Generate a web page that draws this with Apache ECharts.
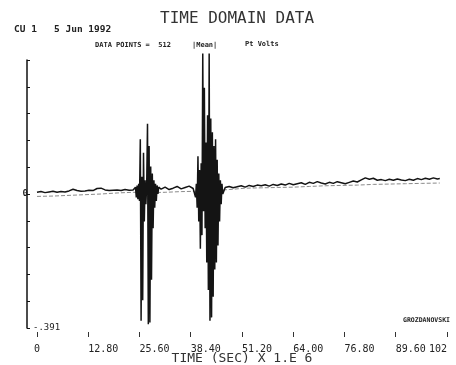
<!DOCTYPE html>
<html>
<head>
<meta charset="utf-8">
<script src="https://cdn.jsdelivr.net/npm/echarts@6/dist/echarts.min.js"></script>
<style>html,body{margin:0;padding:0;background:#fff}#c{width:456px;height:365px}</style>
</head>
<body>
<div id="c"></div>
<script>
// x tick labels (microseconds)
var xTickLabels = ['0', '12.80', '25.60', '38.40', '51.20', '64.00', '76.80', '89.60', '102'];
// y range (volts)
var yMin = -0.391, yMax = 0.391;

// main trace: time (µs) and volts
var timeMain = [
  0, 1, 2, 3, 4, 5, 6, 7, 8, 9, 10, 11, 12, 13, 14, 15, 16, 17, 18, 19, 20, 21, 22, 23, 24,
  24.6, 24.8, 25.0, 25.2, 25.4, 25.6, 25.8, 26.0, 26.2, 26.4, 26.6, 26.8, 27.0, 27.2, 27.4,
  27.6, 27.8, 28.0, 28.2, 28.4, 28.6, 28.8, 29.0, 29.2, 29.4, 29.6, 29.8, 30.0, 30.2, 30.4,
  31, 32, 33, 34, 35, 36, 37, 38, 39,
  39.4, 39.6, 39.8, 40.0, 40.2, 40.4, 40.6, 40.8, 41.0, 41.2, 41.4, 41.6, 41.8, 42.0, 42.2, 42.4,
  42.6, 42.8, 43.0, 43.2, 43.4, 43.6, 43.8, 44.0, 44.2, 44.4, 44.6, 44.8, 45.0, 45.2, 45.4, 45.6,
  45.8, 46.0, 46.2, 46.4,
  47, 48, 49, 50, 51, 52, 53, 54, 55, 56, 57, 58, 59, 60, 61, 62, 63, 64, 65, 66, 67, 68, 69, 70,
  71, 72, 73, 74, 75, 76, 77, 78, 79, 80, 81, 82, 83, 84, 85, 86, 87, 88, 89, 90, 91, 92, 93, 94,
  95, 96, 97, 98, 99, 100, 100.6
];
var voltsMain = [
  0.005, 0.007, 0.004, 0.006, 0.008, 0.005, 0.007, 0.006, 0.009, 0.014, 0.010, 0.008, 0.009, 0.011, 0.010, 0.016, 0.017, 0.012, 0.010, 0.011, 0.012, 0.010, 0.013, 0.011, 0.012,
  0.020, -0.010, 0.025, -0.015, 0.030, -0.020, 0.160, -0.370, 0.050, -0.310, 0.120, -0.080, 0.040, -0.030, 0.030,
  0.205, -0.380, 0.140, -0.375, 0.080, -0.250, 0.060, -0.100, 0.040, -0.040, 0.030, -0.020, 0.025, 0.000, 0.020,
  0.014, 0.020, 0.013, 0.017, 0.022, 0.015, 0.019, 0.023, 0.016,
  0.020, -0.010, 0.030, -0.040, 0.110, -0.080, 0.070, -0.160, 0.090, -0.120, 0.410, -0.050, 0.310, -0.100, 0.150, -0.200,
  0.230, -0.280, 0.410, -0.370, 0.220, -0.360, 0.180, -0.300, 0.140, -0.220, 0.160, -0.200, 0.100, -0.150, 0.060, -0.080,
  0.040, -0.030, 0.030, 0.000,
  0.019, 0.022, 0.018, 0.021, 0.024, 0.020, 0.025, 0.022, 0.026, 0.024, 0.027, 0.023, 0.028, 0.025, 0.029, 0.026, 0.031, 0.027, 0.030, 0.033, 0.028, 0.034, 0.031, 0.036,
  0.032, 0.029, 0.034, 0.031, 0.036, 0.033, 0.030, 0.034, 0.038, 0.035, 0.041, 0.047, 0.043, 0.046, 0.040, 0.042, 0.039, 0.043, 0.040, 0.044, 0.041, 0.039, 0.043, 0.040,
  0.045, 0.042, 0.046, 0.043, 0.047, 0.044, 0.045
];

// faint reference trace
var timeRef = [0, 4, 8, 12, 16, 20, 24, 28, 32, 36, 40, 44, 48, 52, 56, 60, 64, 68, 72, 76, 80, 84, 88, 92, 96, 100.6];
var voltsRef = [-0.007, -0.006, -0.004, -0.002, 0.000, 0.003, 0.005, 0.004, 0.005, 0.007, 0.008, 0.010, 0.013, 0.017, 0.018, 0.019, 0.020, 0.022, 0.024, 0.025, 0.026, 0.028, 0.029, 0.030, 0.031, 0.032];

function pairs(t, v) { return t.map(function (x, i) { return [x, v[i]]; }); }

var mono = 'DejaVu Sans Mono';
var chart = echarts.init(document.getElementById('c'), null, { renderer: 'canvas' });
chart.setOption({
  animation: false,
  backgroundColor: '#fff',
  title: [
    { text: 'TIME DOMAIN DATA', left: 155, top: 6, textStyle: { fontFamily: mono, fontSize: 16, fontWeight: 'normal', color: '#333' } },
    { text: 'CU 1   5 Jun 1992', left: 9, top: 20, textStyle: { fontFamily: mono, fontSize: 9.5, fontWeight: 'bold', color: '#222' } },
    { text: 'DATA POINTS =  512', left: 90, top: 37, textStyle: { fontFamily: mono, fontSize: 7, fontWeight: 'bold', color: '#222' } },
    { text: '|Mean|', left: 187, top: 37, textStyle: { fontFamily: mono, fontSize: 7, fontWeight: 'bold', color: '#222' } },
    { text: 'Pt Volts', left: 240, top: 36, textStyle: { fontFamily: mono, fontSize: 7, fontWeight: 'bold', color: '#222' } },
    { text: 'GROZDANOVSKI', left: 398, top: 312, textStyle: { fontFamily: mono, fontSize: 6.5, fontWeight: 'bold', color: '#222' } }
  ],
  grid: { left: 37, right: 9, top: 60, bottom: 37, outerBoundsMode: 'none', containLabel: false },
  xAxis: {
    type: 'value', min: 0, max: 102.4, interval: 12.8, offset: 4,
    axisLine: { show: false, onZero: false },
    axisTick: { show: true, length: 5, lineStyle: { color: '#333', width: 1 } },
    splitLine: { show: false },
    axisLabel: {
      margin: 12, fontFamily: mono, fontSize: 10, color: '#222', align: 'left',
      alignMinLabel: 'center', alignMaxLabel: 'right', showMaxLabel: true,
      formatter: function (v) { return xTickLabels[Math.round(v / 12.8)] || ''; }
    },
    name: 'TIME (SEC) X 1.E 6', nameLocation: 'middle', nameGap: 20, nameMoveOverlap: false,
    nameTextStyle: { fontFamily: mono, fontSize: 13, color: '#333', verticalAlign: 'top' }
  },
  yAxis: [
    {
      type: 'value', min: yMin, max: yMax, interval: 0.0782, position: 'left', offset: 10,
      axisLine: { show: true, onZero: false, lineStyle: { color: '#111', width: 1.5 } },
      axisTick: { show: true, inside: true, length: 3, lineStyle: { color: '#111', width: 1 } },
      splitLine: { show: false },
      axisLabel: {
        margin: -1, fontFamily: mono, fontSize: 9, fontWeight: 'bold', color: '#222',
        formatter: function (v) { return Math.abs(v) < 1e-6 ? '0' : ''; }
      }
    },
    {
      type: 'value', min: yMin, max: yMax, interval: 0.0782, position: 'left', offset: 10,
      axisLine: { show: false, onZero: false }, axisTick: { show: false }, splitLine: { show: false },
      axisLabel: {
        inside: true, margin: 6, fontFamily: mono, fontSize: 9, color: '#222',
        formatter: function (v) { return Math.abs(v - yMin) < 1e-6 ? '-.391' : ''; }
      }
    }
  ],
  series: [
    {
      type: 'line', name: 'ref', data: pairs(timeRef, voltsRef), showSymbol: false, clip: false,
      lineStyle: { color: '#8a8a8a', width: 1, type: [4, 2] }
    },
    {
      type: 'line', name: 'Pt Volts', data: pairs(timeMain, voltsMain), showSymbol: false, clip: false,
      lineStyle: { color: '#141414', width: 1.5 }
    }
  ]
});
</script>
</body>
</html>
